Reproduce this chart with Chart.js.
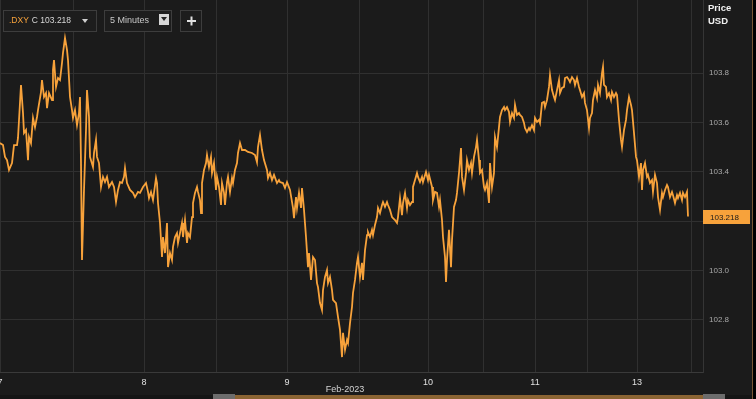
<!DOCTYPE html>
<html>
<head>
<meta charset="utf-8">
<script src="https://cdn.jsdelivr.net/npm/chart.js@4/dist/chart.umd.min.js"></script>
<style>
  html, body { margin: 0; padding: 0; background: #000; }
  #wrap { width: 756px; height: 399px; }
</style>
</head>
<body>
<div id="wrap"><canvas id="grafico" width="756" height="399"></canvas></div>
<script>
// 5-minute bars since the start of the view, and the .DXY price at each one
let bars = [
    0, 6, 10, 14, 18, 24, 28, 34, 36, 42, 46, 48, 52, 56, 58, 62, 66, 70, 74, 76,
    82, 84, 88, 92, 94, 98, 104, 106, 108, 112, 116, 120, 124, 126, 130, 134, 136, 140, 144, 146,
    150, 154, 158, 160, 162, 164, 168, 172, 174, 178, 180, 186, 188, 192, 194, 198, 202, 206, 210, 214,
    218, 224, 228, 232, 236, 240, 244, 248,
    250, 254, 260, 266, 270, 276, 280, 286, 292, 296, 298, 302, 306, 312, 314, 316, 320, 324, 326, 330,
    334, 336, 340, 344, 346, 350, 354, 356, 360, 364, 366, 370, 374, 376, 380, 384, 386, 390, 394, 396,
    400, 402, 404, 408, 412, 414, 418, 422, 424, 428, 432, 434, 438, 442, 444, 448, 450, 454, 456, 460,
    464, 466, 470, 474, 476, 480, 484, 490, 496, 504, 510, 514, 516, 520, 524, 528, 534, 536, 540, 544,
    548, 554, 558,
    560, 566, 570, 574, 580, 586, 588, 592, 594, 598, 602, 604, 608, 612, 616, 618, 622, 626, 630, 634,
    636, 640, 644, 646, 650, 654, 656, 660, 664, 666, 672, 676, 680, 684, 686, 690, 694, 696, 700, 704,
    706, 710, 714, 716, 720, 724, 726, 730, 734, 736, 740, 744, 746, 750, 754, 756, 760, 764, 766, 770,
    774, 776, 780, 784, 786, 790, 794, 796, 800, 804, 806, 810, 814, 816, 820, 824, 826, 830, 834, 836,
    840, 844, 846, 852, 856, 858, 864, 866, 870, 874, 878,
    880, 884, 886, 890, 892, 894, 898, 902, 904, 908, 912, 914, 918, 922, 924, 928, 932, 934, 938, 942,
    944, 948, 952, 954, 958, 960, 964, 968, 970, 974, 978, 980, 984, 988, 990, 994, 998, 1000, 1004, 1008,
    1010, 1014, 1018, 1020, 1024, 1028, 1030, 1034, 1038, 1040, 1044, 1048, 1050, 1054, 1058, 1060, 1064, 1068, 1070, 1074,
    1078, 1080, 1084, 1088, 1090, 1094, 1098, 1100, 1104, 1108, 1110, 1114, 1118, 1120, 1124, 1128, 1130, 1134, 1138, 1140,
    1144, 1148, 1150, 1154, 1158, 1160, 1164, 1168, 1170, 1174, 1178,
    1180, 1184, 1186, 1190, 1194, 1196, 1200, 1204, 1206, 1208, 1212, 1214, 1218, 1222, 1224, 1228, 1232, 1234, 1238, 1242,
    1244, 1248, 1252, 1254, 1258, 1262, 1264, 1268, 1272, 1274, 1278, 1282, 1284, 1286, 1290, 1294, 1296, 1300, 1304, 1306,
    1310, 1314, 1316, 1320, 1324, 1326, 1330, 1334, 1336, 1340, 1344, 1346, 1350, 1354, 1356, 1360, 1364, 1366, 1370, 1374,
    1376
];

let precios = [
    103.516, 103.508, 103.460, 103.447, 103.407, 103.435, 103.508, 103.508, 103.537, 103.752,
    103.638, 103.557, 103.569, 103.447, 103.541, 103.516, 103.618, 103.581, 103.622, 103.650,
    103.723, 103.772, 103.703, 103.719, 103.658, 103.719, 103.691, 103.813, 103.853, 103.744,
    103.780, 103.772, 103.841, 103.882, 103.942, 103.894, 103.853, 103.703, 103.650, 103.618,
    103.650, 103.589, 103.638, 103.703, 103.435, 103.042, 103.326, 103.569, 103.731, 103.622,
    103.460, 103.419, 103.476, 103.529, 103.460, 103.435, 103.338, 103.379, 103.358, 103.379,
    103.338, 103.358, 103.338, 103.277, 103.326, 103.358, 103.354, 103.379,
    103.415, 103.354, 103.326, 103.314, 103.297, 103.318, 103.314, 103.338, 103.354, 103.318,
    103.293, 103.318, 103.285, 103.374, 103.354, 103.273, 103.192, 103.054, 103.135, 103.070,
    103.192, 103.013, 103.070, 103.042, 103.095, 103.135, 103.151, 103.111, 103.151, 103.192,
    103.135, 103.204, 103.111, 103.151, 103.135, 103.216, 103.273, 103.314, 103.338, 103.318,
    103.285, 103.232, 103.354, 103.407, 103.435, 103.468, 103.419, 103.460, 103.395, 103.435,
    103.326, 103.379, 103.338, 103.265, 103.354, 103.314, 103.265, 103.358, 103.379, 103.318,
    103.374, 103.354, 103.407, 103.435, 103.476, 103.516, 103.488, 103.488, 103.480, 103.476,
    103.468, 103.439, 103.500, 103.549, 103.488, 103.447, 103.407, 103.374, 103.395, 103.366,
    103.387, 103.354, 103.366,
    103.358, 103.354, 103.334, 103.358, 103.326, 103.253, 103.212, 103.297, 103.253, 103.314,
    103.253, 103.334, 103.245, 103.135, 103.013, 103.070, 102.961, 103.054, 103.042, 102.948,
    102.932, 102.867, 102.839, 102.920, 102.973, 103.001, 102.948, 102.973, 102.920, 102.880,
    102.867, 102.811, 102.758, 102.648, 102.746, 102.677, 102.717, 102.705, 102.786, 102.851,
    102.908, 102.961, 103.030, 103.054, 102.973, 103.030, 102.961, 103.082, 103.143, 103.155,
    103.135, 103.164, 103.143, 103.184, 103.216, 103.253, 103.232, 103.265, 103.277, 103.257,
    103.277, 103.265, 103.245, 103.216, 103.212, 103.204, 103.192, 103.216, 103.293, 103.224,
    103.273, 103.314, 103.253, 103.285, 103.265, 103.277, 103.338, 103.366, 103.395, 103.379,
    103.358, 103.379, 103.358, 103.399, 103.366, 103.387, 103.338, 103.285, 103.318, 103.314,
    103.257,
    103.285, 103.204, 103.135, 103.054, 102.953, 103.042, 103.164, 103.013, 103.123, 103.257,
    103.285, 103.314, 103.395, 103.496, 103.379, 103.326, 103.395, 103.447, 103.407, 103.435,
    103.395, 103.460, 103.500, 103.529, 103.447, 103.395, 103.407, 103.338, 103.326, 103.354,
    103.273, 103.435, 103.338, 103.395, 103.541, 103.500, 103.581, 103.622, 103.650, 103.662,
    103.650, 103.662, 103.642, 103.602, 103.638, 103.618, 103.671, 103.630, 103.638, 103.630,
    103.622, 103.598, 103.577, 103.561, 103.577, 103.569, 103.589, 103.569, 103.618, 103.602,
    103.610, 103.598, 103.679, 103.683, 103.662, 103.691, 103.744, 103.792, 103.731, 103.703,
    103.691, 103.731, 103.772, 103.719, 103.740, 103.744, 103.780, 103.784, 103.772, 103.764,
    103.784, 103.772, 103.752, 103.780, 103.744, 103.731, 103.703, 103.719, 103.679, 103.650,
    103.577,
    103.618, 103.638, 103.691, 103.731, 103.699, 103.752, 103.719, 103.800, 103.825, 103.752,
    103.744, 103.703, 103.719, 103.691, 103.723, 103.703, 103.719, 103.711, 103.610, 103.529,
    103.500, 103.569, 103.610, 103.650, 103.703, 103.671, 103.650, 103.557, 103.460, 103.447,
    103.379, 103.435, 103.326, 103.407, 103.435, 103.379, 103.387, 103.354, 103.366, 103.318,
    103.387, 103.354, 103.297, 103.245, 103.314, 103.297, 103.326, 103.346, 103.338, 103.297,
    103.318, 103.305, 103.273, 103.305, 103.293, 103.314, 103.285, 103.314, 103.297, 103.318,
    103.218
];

// x axis: day starts (labelled) and mid-day lines (unlabelled)
let diasBarra = [0, 288, 574, 856, 1070, 1274];
let diasTexto = ["7", "8", "9", "10", "11", "13"];
let mediosBarra = [146, 432, 718, 966, 1174, 1382];
let ticksPrecio = [102.8, 103.0, 103.2, 103.4, 103.6, 103.8];

let simbolo = ".DXY";
let ultimoTexto = "C 103.218";
let intervalo = "5 Minutes";
let mesTexto = "Feb-2023";

let naranja = "#f7a23b";
let fuente = "'Liberation Sans', Arial, sans-serif";

let puntos = bars.map((b, i) => ({ x: b, y: precios[i] }));
let ultimo = precios[precios.length - 1];

function sinRelleno(axis) {
    axis.paddingLeft = 0;
    axis.paddingRight = 0;
    axis.paddingTop = 0;
    axis.paddingBottom = 0;
}

const fondo = {
    id: "fondo",
    beforeDraw(chart) {
        let ctx = chart.ctx;
        ctx.save();
        ctx.fillStyle = "#1b1b1b";
        ctx.fillRect(0, 0, chart.width, chart.height);
        ctx.restore();
    }
};

function caja(ctx, x, y, w, h) {
    ctx.fillStyle = "#1d1d1d";
    ctx.fillRect(x, y, w, h);
    ctx.strokeStyle = "#3d3d3d";
    ctx.lineWidth = 1;
    ctx.strokeRect(x + 0.5, y + 0.5, w - 1, h - 1);
}

function triangulo(ctx, cx, cy, color) {
    ctx.fillStyle = color;
    ctx.beginPath();
    ctx.moveTo(cx - 3, cy - 2);
    ctx.lineTo(cx + 3, cy - 2);
    ctx.lineTo(cx, cy + 2);
    ctx.closePath();
    ctx.fill();
}

const adornos = {
    id: "adornos",
    afterDraw(chart) {
        let ctx = chart.ctx;
        let area = chart.chartArea;
        let yEsc = chart.scales.y;
        ctx.save();

        // toolbar
        caja(ctx, 3, 10, 94, 22);
        ctx.font = "8.5px " + fuente;
        ctx.textBaseline = "middle";
        ctx.textAlign = "left";
        ctx.fillStyle = naranja;
        ctx.fillText(simbolo, 9, 21);
        let w = ctx.measureText(simbolo).width;
        ctx.fillStyle = "#d8d8d8";
        ctx.fillText(ultimoTexto, 9 + w + 3, 21);
        triangulo(ctx, 85, 21, "#d0d0d0");

        caja(ctx, 104, 10, 68, 22);
        ctx.font = "9px " + fuente;
        ctx.fillStyle = "#c8c8c8";
        ctx.fillText(intervalo, 110, 21);
        ctx.fillStyle = "#d6d6d6";
        ctx.fillRect(159, 14, 10, 11);
        triangulo(ctx, 164, 19, "#222");

        caja(ctx, 180, 10, 22, 22);
        ctx.fillStyle = "#e0e0e0";
        ctx.fillRect(187, 20, 9, 2);
        ctx.fillRect(190.5, 16.5, 2, 9);

        // axis title
        ctx.font = "bold 9.5px " + fuente;
        ctx.fillStyle = "#f0f0f0";
        ctx.fillText("Price", 708, 8);
        ctx.fillText("USD", 708, 21);

        // last price tag
        let yu = Math.round(yEsc.getPixelForValue(ultimo));
        ctx.fillStyle = naranja;
        ctx.fillRect(area.right, yu - 7, 47, 14);
        ctx.fillStyle = "#1a1a1a";
        ctx.font = "8px " + fuente;
        ctx.fillText(ultimo.toFixed(3), area.right + 7, yu + 0.5);

        // month label
        ctx.textAlign = "center";
        ctx.font = "9px " + fuente;
        ctx.fillStyle = "#d4d4d4";
        ctx.fillText(mesTexto, 345, 390);

        // scrollbar
        ctx.fillStyle = "#151515";
        ctx.fillRect(0, 395, 752, 4);
        ctx.fillStyle = "#8b6433";
        ctx.fillRect(235, 395, 468, 4);
        ctx.fillStyle = "#6c6c6c";
        ctx.fillRect(213, 394, 22, 5);
        ctx.fillRect(703, 394, 22, 5);

        // right frame
        ctx.fillStyle = "#7a5634";
        ctx.fillRect(752, 0, 1, 399);
        ctx.fillStyle = "#000";
        ctx.fillRect(753, 0, 3, 399);
        ctx.restore();
    }
};

let ctx = document.getElementById("grafico").getContext("2d");

new Chart(ctx, {
    type: "line",
    data: {
        datasets: [{
            label: ".DXY",
            data: puntos,
            borderColor: naranja,
            borderWidth: 1.8,
            pointRadius: 0,
            tension: 0
        }]
    },
    options: {
        responsive: false,
        animation: false,
        devicePixelRatio: 1,
        layout: { padding: 0 },
        plugins: {
            legend: { display: false },
            tooltip: { enabled: false }
        },
        scales: {
            x: {
                type: "linear",
                min: 0,
                max: 1406,
                afterBuildTicks: (axis) => {
                    axis.ticks = diasBarra.concat(mediosBarra).sort((a, b) => a - b).map(v => ({ value: v }));
                },
                afterFit: (axis) => { axis.height = 27; sinRelleno(axis); },
                grid: { color: "#303030", drawTicks: false },
                border: { color: "#3a3a3a" },
                ticks: {
                    autoSkip: false,
                    maxRotation: 0,
                    padding: 5,
                    color: "#e0e0e0",
                    font: { family: fuente, size: 9 },
                    callback: (v) => {
                        let i = diasBarra.indexOf(v);
                        return i >= 0 ? diasTexto[i] : "";
                    }
                }
            },
            y: {
                position: "right",
                min: 102.5874,
                max: 104.0966,
                afterBuildTicks: (axis) => {
                    axis.ticks = ticksPrecio.map(v => ({ value: v }));
                },
                afterFit: (axis) => { axis.width = 53; sinRelleno(axis); },
                grid: { color: "#303030", drawTicks: false },
                border: { color: "#353535" },
                ticks: {
                    padding: 6,
                    color: "#a9a9a9",
                    font: { family: fuente, size: 8 },
                    callback: (v) => v.toFixed(1)
                }
            }
        }
    },
    plugins: [fondo, adornos]
});
</script>
</body>
</html>
